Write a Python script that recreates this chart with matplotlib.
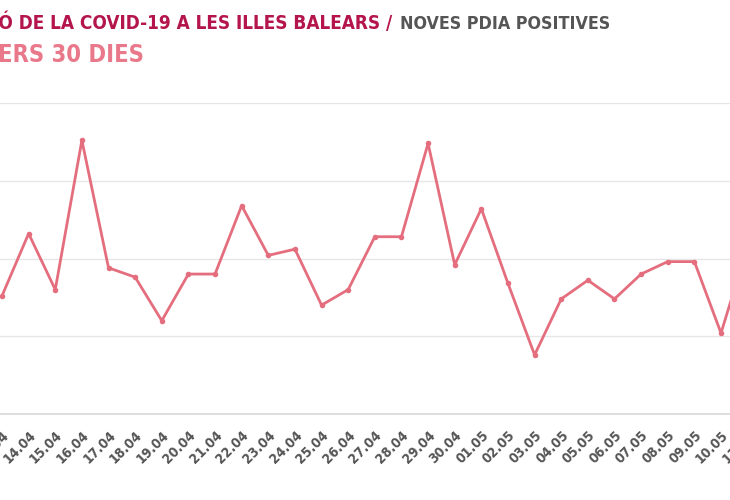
import matplotlib
matplotlib.use("Agg")
from matplotlib import pyplot as plt

# data (new positive PDIA per day)
dates = ["13.04", "14.04", "15.04", "16.04", "17.04", "18.04", "19.04", "20.04",
         "21.04", "22.04", "23.04", "24.04", "25.04", "26.04", "27.04", "28.04",
         "29.04", "30.04", "01.05", "02.05", "03.05", "04.05", "05.05", "06.05",
         "07.05", "08.05", "09.05", "10.05", "11.05"]
positives = [38, 58, 40, 88, 47, 44, 30, 45, 45, 67, 51, 53, 35, 40, 57, 57,
             87, 48, 66, 42, 19, 37, 43, 37, 45, 49, 49, 26, 54]
y_ticks = [0, 25, 50, 75, 100]

FONT = ["DejaVu Sans"]
STRETCH = "condensed"
W, H = 730, 500
LINE_COLOR = "#e46e7e"

fig = plt.figure(figsize=(W / 100, H / 100), dpi=100)

# plot area: the chart is cropped, so the axes run past the left/right edges
px_first, step = 2.0, 26.63
left_px, right_px = -60.0, 790.0
top_px, bottom_px = 103.0, 414.0
ax = fig.add_axes([left_px / W, 1 - bottom_px / H,
                   (right_px - left_px) / W, (bottom_px - top_px) / H])

x = list(range(len(dates)))
ax.plot(x, positives, color=LINE_COLOR, lw=2, marker="o", ms=4,
        markeredgewidth=0, zorder=3)

ax.set_xlim((left_px - px_first) / step, (right_px - px_first) / step)
ax.set_ylim(0, 100)
ax.set_yticks(y_ticks)
ax.set_yticklabels([])
ax.tick_params(axis="y", length=0)
ax.grid(axis="y", color="#e6e6e6", lw=1)
ax.set_axisbelow(True)

ax.set_xticks(x)
ax.set_xticklabels(dates, rotation=45, ha="right", rotation_mode="anchor",
                   family=FONT, stretch=STRETCH, weight="bold", fontsize=10,
                   color="#555555")
ax.tick_params(axis="x", length=0, pad=10)

for side in ["top", "right", "left"]:
    ax.spines[side].set_visible(False)
ax.spines["bottom"].set_color("#d8d8d8")
ax.spines["bottom"].set_linewidth(1.2)

# titles (also cut off on the left in the reference)
fig.text(392 / W, 1 - 29 / H, "EVOLUCIÓ DE LA COVID-19 A LES ILLES BALEARS /",
         ha="right", va="baseline", family=FONT, stretch=STRETCH, weight="bold",
         fontsize=13.6, color="#b3154c")
fig.text(400 / W, 1 - 29 / H, "NOVES PDIA POSITIVES",
         ha="left", va="baseline", family=FONT, stretch=STRETCH, weight="bold",
         fontsize=12.8, color="#555555")
fig.text(144 / W, 1 - 62 / H, "DARRERS 30 DIES",
         ha="right", va="baseline", family=FONT, stretch=STRETCH, weight="bold",
         fontsize=17, color="#e8788a")

fig.savefig("out.png", dpi=100)
